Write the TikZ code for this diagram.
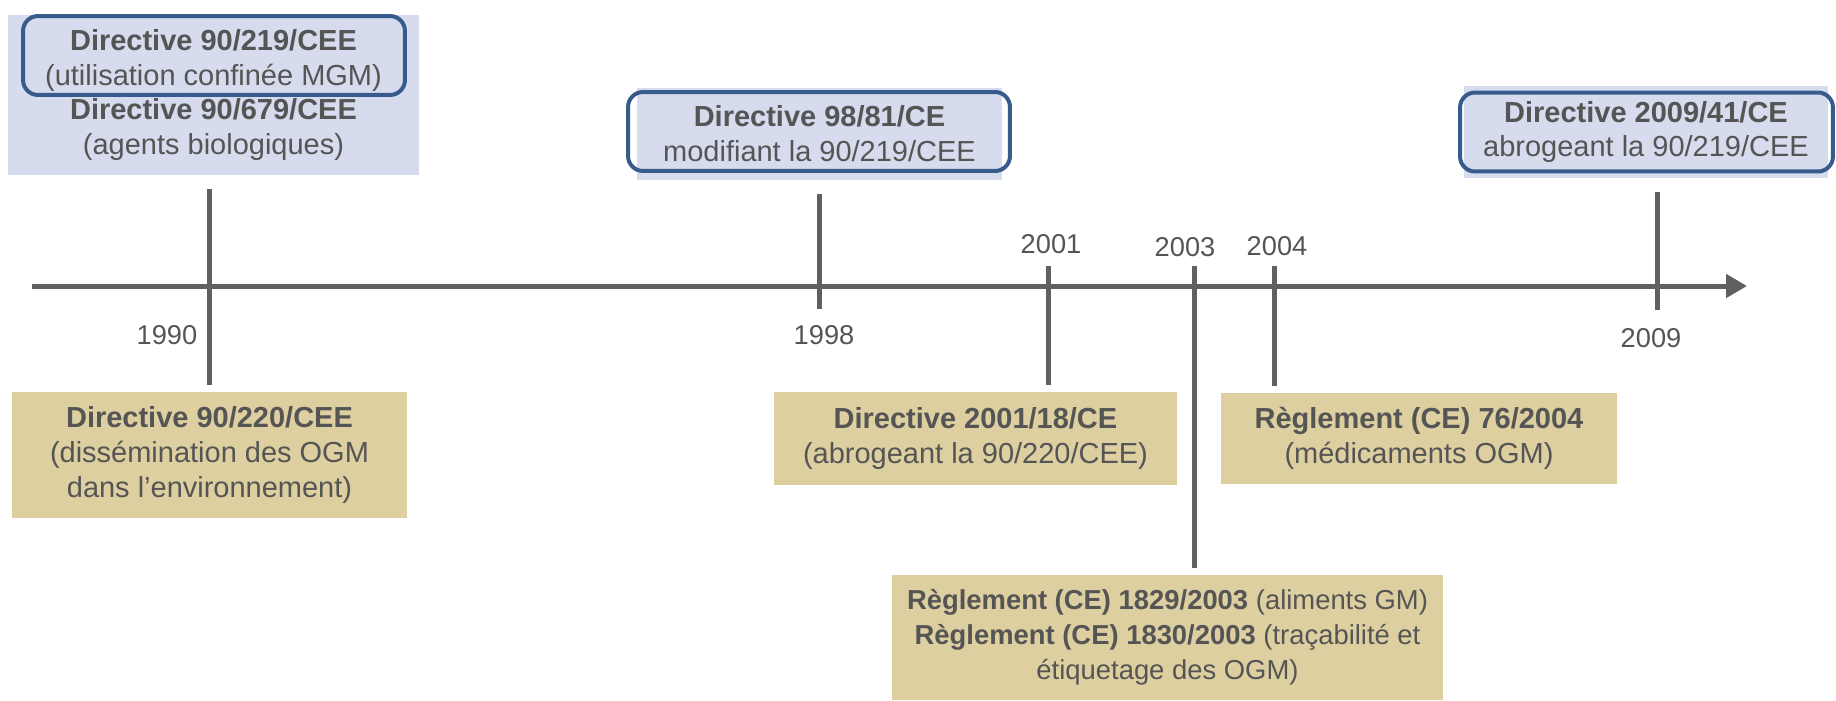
\documentclass[tikz,border=0pt]{standalone}
\usepackage{fontspec}
\setmainfont{Liberation Sans}
\usetikzlibrary{arrows.meta}
\definecolor{bleuclair}{RGB}{214,219,237}
\definecolor{bleucadre}{RGB}{55,91,141}
\definecolor{beige}{RGB}{221,207,160}
\definecolor{gristexte}{RGB}{85,85,85}
\definecolor{grisaxe}{RGB}{96,96,96}

\begin{document}
\begin{tikzpicture}[x=0.02cm, y=-0.02cm,
  every node/.style={font=\fontsize{16.5}{19.9}\selectfont, text=gristexte, align=center},
  bleu/.style={fill=bleuclair, inner sep=0pt, outer xsep=0pt, outer ysep=0.28cm},
  cadre/.style={draw=bleucadre, line width=0.08cm, rounded corners=0.3cm, minimum height=1.58cm},
  beigebox/.style={fill=beige, inner sep=0pt, outer xsep=0pt, outer ysep=0.14cm},
  annee/.style={font=\fontsize{15.5}{18}\selectfont},
  axe/.style={draw=grisaxe, line width=0.1cm}]
  \useasboundingbox (0,0) rectangle (1836,700);

  % Axe
  \coordinate (debut) at (32,286);
  \coordinate (fin) at (1747,286);
  \draw[axe, -{Triangle[length=0.42cm, width=0.46cm]}] (debut) -- (fin);

  % Directives en haut
  \node[bleu, minimum width=8.22cm, minimum height=3.22cm] (d90) at (213.5,95)
    {\textbf{Directive 90/219/CEE}\\(utilisation confinée MGM)\\\textbf{Directive 90/679/CEE}\\(agents biologiques)};
  \node[cadre, minimum width=7.64cm] (f90) at (214,55.5) {};
  \node[bleu, minimum width=7.3cm, minimum height=1.84cm] (d98) at (819.5,134)
    {\textbf{Directive 98/81/CE}\\modifiant la 90/219/CEE};
  \node[cadre, minimum width=7.64cm] (f98) at (819,131.5) {};
  \node[bleu, minimum width=7.3cm, minimum height=1.84cm] (d2009) at (1646,132)
    {\textbf{Directive 2009/41/CE}\\abrogeant la 90/219/CEE};
  \node[cadre, minimum width=7.46cm] (f2009) at (1646.5,132) {};

  % Textes en bas
  \node[beigebox, minimum width=7.9cm, minimum height=2.52cm] (d90220) at (209.5,455)
    {\textbf{Directive 90/220/CEE}\\(dissémination des OGM\\dans l'environnement)};
  \node[beigebox, minimum width=8.06cm, minimum height=1.86cm] (d2001) at (975.5,438.5)
    {\textbf{Directive 2001/18/CE}\\(abrogeant la 90/220/CEE)};
  \node[beigebox, minimum width=7.92cm, minimum height=1.82cm] (r76) at (1419,438.5)
    {\textbf{Règlement (CE) 76/2004}\\(médicaments OGM)};
  \node[beigebox, minimum width=11.02cm, minimum height=2.5cm, font=\fontsize{15.6}{19.9}\selectfont] (r1829) at (1167.5,637.5)
    {\textbf{Règlement (CE) 1829/2003} (aliments GM)\\\textbf{Règlement (CE) 1830/2003} (traçabilité et\\étiquetage des OGM)};

  % Annees
  \node[annee] (a1990) at (167,335) {1990};
  \node[annee] (a1998) at (824,335) {1998};
  \node[annee] (a2001) at (1051,244) {2001};
  \node[annee] (a2003) at (1185,247) {2003};
  \node[annee] (a2004) at (1277,246) {2004};
  \node[annee] (a2009) at (1651,338) {2009};

  % Traits
  \coordinate (p1990) at (209,286);
  \coordinate (e1998) at (819,309);
  \coordinate (e2009) at (1657,310);
  \coordinate (s2001) at (1048,266);
  \coordinate (s2003) at (1194,266);
  \coordinate (s2004) at (1274,266);
  \draw[axe] (d90.south -| p1990) -- (d90220.north -| p1990);
  \draw[axe] (d98.south -| e1998) -- (e1998);
  \draw[axe] (d2009.south -| e2009) -- (e2009);
  \draw[axe] (s2001) -- (d2001.north -| s2001);
  \draw[axe] (s2003) -- (r1829.north -| s2003);
  \draw[axe] (s2004) -- (r76.north -| s2004);
\end{tikzpicture}
\end{document}
